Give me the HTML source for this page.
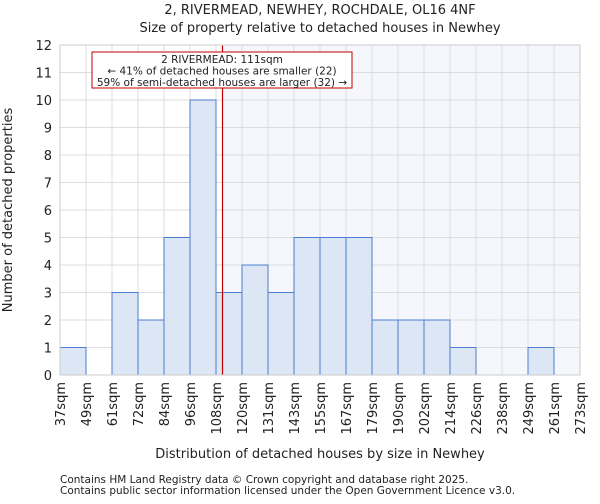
<!DOCTYPE html>
<html><head><meta charset="utf-8"><style>
body{margin:0;background:#fff;font-family:"DejaVu Sans","Liberation Sans",sans-serif;}
svg text{font-family:"DejaVu Sans","Liberation Sans",sans-serif;fill:#222;}
</style></head><body>
<svg id="chart" width="600" height="500" xmlns="http://www.w3.org/2000/svg">
<text x="320" y="14" font-size="13" text-anchor="middle">2, RIVERMEAD, NEWHEY, ROCHDALE, OL16 4NF</text>
<text x="320" y="32" font-size="13" text-anchor="middle">Size of property relative to detached houses in Newhey</text>
<g id="plot"></g>
<text x="320" y="458" font-size="13" text-anchor="middle">Distribution of detached houses by size in Newhey</text>
<text transform="translate(12,210) rotate(-90)" font-size="13" text-anchor="middle">Number of detached properties</text>
<text x="60" y="483" font-size="10.5">Contains HM Land Registry data © Crown copyright and database right 2025.</text>
<text x="60" y="494" font-size="10.5">Contains public sector information licensed under the Open Government Licence v3.0.</text>
</svg>
<script>
const binLabels=["37sqm","49sqm","61sqm","72sqm","84sqm","96sqm","108sqm","120sqm","131sqm","143sqm","155sqm","167sqm","179sqm","190sqm","202sqm","214sqm","226sqm","238sqm","249sqm","261sqm","273sqm"];
const counts=[1,0,3,2,5,10,3,4,3,5,5,5,2,2,2,1,0,0,1,0];
const yTicks=[0,1,2,3,4,5,6,7,8,9,10,11,12];
const markerIndex=6.25;
const NS="http://www.w3.org/2000/svg";
const L=60,R=580,T=45,B=375,yMax=12;
const n=counts.length;
const xs=i=>L+(R-L)*i/n;
const ys=v=>B-(B-T)*v/yMax;
const g=document.getElementById('plot');
function mk(t,a){const e=document.createElementNS(NS,t);for(const k in a)e.setAttribute(k,a[k]);g.appendChild(e);return e;}
let e=mk('rect',{x:xs(markerIndex),y:T,width:R-xs(markerIndex),height:B-T,fill:'#f5f7fd'});


for(let i=0;i<=n;i++){e=mk('line',{x1:xs(i),x2:xs(i),y1:T,y2:B,stroke:'#dddddd','stroke-width':1});

}
yTicks.forEach(v=>{e=mk('line',{x1:L,x2:R,y1:ys(v),y2:ys(v),stroke:'#dddddd','stroke-width':1});


e=mk('text',{x:L-8,y:ys(v)+5,'font-size':13,'text-anchor':'end'});e.textContent=v;

});
counts.forEach((c,i)=>{if(c<=0)return;e=mk('rect',{x:xs(i),y:ys(c),width:xs(i+1)-xs(i),height:B-ys(c),fill:'#dce6f4',stroke:'#4a7fcf','stroke-width':1});

});
binLabels.forEach((l,i)=>{e=mk('text',{transform:`translate(${xs(i)+5},382) rotate(-90)`,'font-size':13,'text-anchor':'end'});e.textContent=l;

});
e=mk('line',{x1:xs(markerIndex),x2:xs(markerIndex),y1:T,y2:B,stroke:'#c00000','stroke-width':1.2});


e=mk('rect',{x:92,y:52,width:260,height:36,fill:'#fff',stroke:'#c00000','stroke-width':1});


["2 RIVERMEAD: 111sqm","← 41% of detached houses are smaller (22)","59% of semi-detached houses are larger (32) →"].forEach((t,k)=>{
e=mk('text',{x:222,y:63+k*11.5,'font-size':10.5,'text-anchor':'middle'});e.textContent=t;

});
e=mk('rect',{x:L,y:T,width:R-L,height:B-T,fill:'none',stroke:'#ccc','stroke-width':1});


</script>
</body></html>
